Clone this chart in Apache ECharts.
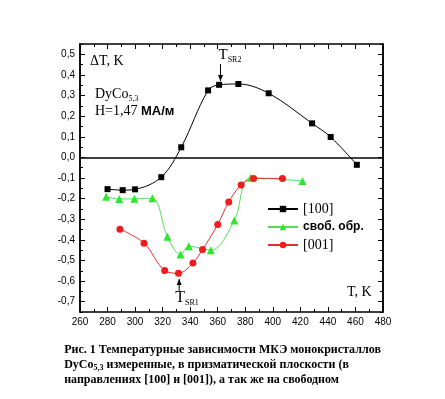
<!DOCTYPE html>
<html>
<head>
<meta charset="utf-8">
<script src="https://cdn.jsdelivr.net/npm/echarts@6/dist/echarts.min.js"></script>
<style>
  html, body { margin: 0; padding: 0; background: #fff; }
  #chart { width: 445px; height: 399px; }
</style>
</head>
<body>
<div id="chart"></div>
<script>
// [100] direction
const t100 = [280, 291, 300, 319, 333.5, 353, 361, 375, 397, 428.5, 442, 461];
const dT100 = [-0.154, -0.159, -0.155, -0.096, 0.049, 0.325, 0.352, 0.356, 0.311, 0.165, 0.099, -0.036];

// free sample
const tFree = [279, 288.5, 299.5, 312.5, 323.5, 333, 339, 355, 372, 384, 421.5];
const dTFree = [-0.191, -0.202, -0.201, -0.198, -0.385, -0.471, -0.431, -0.45, -0.306, -0.099, -0.114];

// [001] direction
const t001 = [289, 306.5, 321.5, 331.5, 342, 349, 360, 368, 377, 386, 407];
const dT001 = [-0.348, -0.416, -0.549, -0.562, -0.512, -0.447, -0.325, -0.216, -0.134, -0.102, -0.102];

const yMajor = [-0.7, -0.6, -0.5, -0.4, -0.3, -0.2, -0.1, 0, 0.1, 0.2, 0.3, 0.4, 0.5];
const yMinor = [-0.75, -0.65, -0.55, -0.45, -0.35, -0.25, -0.15, -0.05, 0.05, 0.15, 0.25, 0.35, 0.45, 0.55];

const names = ["[100]", "своб. обр.", "[001]"];
const caption = [
  "Рис. 1 Температурные зависимости МКЭ монокристаллов",
  "DyCo{s|5,3} измеренные, в призматической плоскости (в",
  "направлениях [100] и [001]), а так же на свободном"
];

const zip = (xs, ys) => xs.map((x, i) => [x, ys[i]]);

const chart = echarts.init(document.getElementById("chart"));

const axisLine = { show: true, onZero: false, lineStyle: { color: "#000", width: 1.5 } };
const sans = "Liberation Sans, Arial, sans-serif";
const serif = "Liberation Serif, Times New Roman, serif";

function yAxisOf(position, values, len, labels) {
  return {
    type: "value",
    position: position,
    min: -0.75,
    max: 0.55,
    axisLine: axisLine,
    splitLine: { show: false },
    axisTick: { show: true, inside: true, length: len, customValues: values, lineStyle: { color: "#000", width: 1 } },
    axisLabel: labels
      ? {
          show: true,
          customValues: yMajor,
          color: "#000",
          fontFamily: sans,
          fontSize: 10,
          margin: 5,
          formatter: v => v.toFixed(1).replace(".", ",")
        }
      : { show: false }
  };
}

function xAxisOf(position, labels) {
  return {
    type: "value",
    position: position,
    min: 260,
    max: 480,
    interval: 20,
    axisLine: axisLine,
    splitLine: { show: false },
    axisTick: { show: true, inside: true, length: 5, lineStyle: { color: "#000", width: 1 } },
    minorTick: { show: true, splitNumber: 2, length: 3, lineStyle: { color: "#000", width: 1 } },
    minorSplitLine: { show: false },
    axisLabel: labels
      ? { show: true, color: "#000", fontFamily: sans, fontSize: 10, margin: 5 }
      : { show: false }
  };
}

const option = {
  backgroundColor: "#fff",
  animation: false,
  grid: { left: 80, right: 62, top: 44, bottom: 87 },
  xAxis: [xAxisOf("bottom", true), xAxisOf("top", false)],
  yAxis: [
    yAxisOf("left", yMajor, 5, true),
    yAxisOf("left", yMinor, 3, false),
    yAxisOf("right", yMajor, 5, false),
    yAxisOf("right", yMinor, 3, false)
  ],
  legend: {
    orient: "vertical",
    left: 262,
    top: 197,
    itemWidth: 30,
    itemHeight: 8,
    itemGap: 5,
    data: [
      { name: names[0], textStyle: { fontFamily: serif, fontSize: 14 } },
      { name: names[1], textStyle: { fontFamily: sans, fontSize: 12, fontWeight: "bold" } },
      { name: names[2], textStyle: { fontFamily: serif, fontSize: 14 } }
    ],
    textStyle: { color: "#000" }
  },
  series: [
    {
      name: names[0],
      type: "line",
      data: zip(t100, dT100),
      smooth: 0.35,
      symbol: "rect",
      symbolSize: 6,
      itemStyle: { color: "#000" },
      lineStyle: { color: "#000", width: 1 },
      markLine: {
        silent: true,
        symbol: "none",
        label: { show: false },
        lineStyle: { color: "#000", width: 1.5, type: "solid" },
        data: [{ yAxis: 0 }]
      }
    },
    {
      name: names[1],
      type: "line",
      data: zip(tFree, dTFree),
      smooth: 0.35,
      symbol: "triangle",
      symbolSize: 8,
      itemStyle: { color: "#2ee62e" },
      lineStyle: { color: "#55dd55", width: 1 }
    },
    {
      name: names[2],
      type: "line",
      data: zip(t001, dT001),
      smooth: 0.35,
      symbol: "circle",
      symbolSize: 7,
      itemStyle: { color: "#ee1c1c" },
      lineStyle: { color: "#dd3030", width: 1 }
    }
  ]
};

chart.setOption(option);

// annotations, placed from data coordinates
const p2 = chart.convertToPixel({ xAxisIndex: 0, yAxisIndex: 0 }, [362, 0.37]);
const p1 = chart.convertToPixel({ xAxisIndex: 0, yAxisIndex: 0 }, [332, -0.59]);

const txt = (x, y, text, style) => ({
  type: "text",
  left: x,
  top: y,
  style: Object.assign({ text: text, fill: "#000", font: "14px " + serif }, style)
});

chart.setOption({
  graphic: [
    txt(90, 54, "ΔT, K"),
    txt(95, 87, "DyCo{s|5,3}", { rich: { s: { font: "8px " + serif, padding: [10, 0, 0, 0] } } }),
    txt(95, 104, "H=1,47 {b|МА/м}", { rich: { b: { font: "bold 13px " + sans } } }),
    txt(347, 285, "T, K"),
    txt(p2[0] - 2, 48, "T{s|SR2}", { font: "15px " + serif, rich: { s: { font: "8px " + serif, padding: [8, 0, 0, 0] } } }),
    {
      type: "line",
      shape: { x1: p2[0], y1: 64, x2: p2[0], y2: p2[1] },
      style: { stroke: "#000", lineWidth: 1 }
    },
    {
      type: "polygon",
      shape: { points: [[p2[0] - 2.5, p2[1] - 6], [p2[0] + 2.5, p2[1] - 6], [p2[0], p2[1]]] },
      style: { fill: "#000" }
    },
    {
      type: "line",
      shape: { x1: p1[0], y1: p1[1], x2: p1[0], y2: p1[1] + 12 },
      style: { stroke: "#000", lineWidth: 1 }
    },
    {
      type: "polygon",
      shape: { points: [[p1[0] - 2.5, p1[1] + 6], [p1[0] + 2.5, p1[1] + 6], [p1[0], p1[1]]] },
      style: { fill: "#000" }
    },
    txt(p1[0] - 4, 290, "T{s|SR1}", { font: "16px " + serif, rich: { s: { font: "8px " + serif, padding: [9, 0, 0, 0] } } }),
    {
      type: "text",
      left: "center",
      top: 342,
      style: {
        text: caption.join("\n"),
        fill: "#000",
        align: "center",
        font: "bold 12px " + serif,
        lineHeight: 15,
        rich: { s: { font: "bold 8px " + serif, padding: [6, 0, 0, 0] } }
      }
    }
  ]
});
</script>
</body>
</html>
